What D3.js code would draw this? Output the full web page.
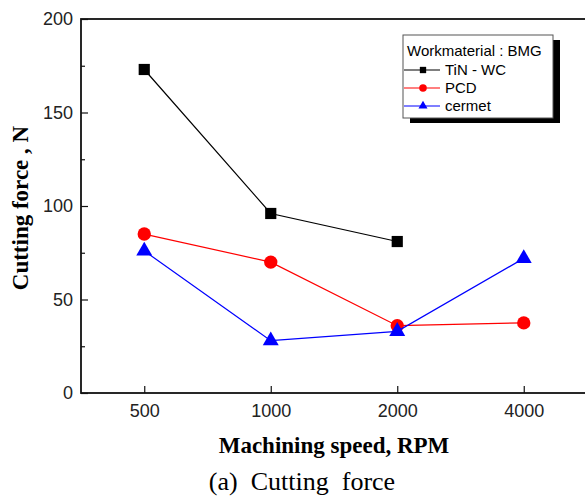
<!DOCTYPE html>
<html lang="en">
<head>
<meta charset="UTF-8">
<title>Cutting force</title>
<style>
  body { margin: 0; background: white; }
  svg { display: block; }
  .tick text { font-family: "Liberation Sans", Arial, sans-serif; font-size: 18px; fill: #222; }
</style>
</head>
<body>
<svg width="585" height="500"></svg>
<script src="https://d3js.org/d3.v7.min.js"></script>
<script>
// data
const speeds = ["500", "1000", "2000", "4000"];
const tinWc = [173, 96, 81, null];
const pcd = [85, 70, 36, 37.5];
const cermet = [76, 28, 33, 72];
const yTicks = [0, 50, 100, 150, 200];

const series = [
  { name: "TiN - WC", values: tinWc, color: "#000000", shape: d3.symbolSquare, size: 125 },
  { name: "PCD", values: pcd, color: "#ff0000", shape: d3.symbolCircle, size: 140 },
  { name: "cermet", values: cermet, color: "#0000ff", shape: d3.symbolTriangle, size: 110 }
];

const margin = { left: 81, top: 19, right: -2, bottom: 107 };
const width = 585, height = 500;
const svg = d3.select("svg");

const x = d3.scaleLinear().domain([-0.5, 3.5]).range([margin.left, width - margin.right]);
const y = d3.scaleLinear().domain([0, 200]).range([height - margin.bottom, margin.top]);

// frame
svg.append("rect")
  .attr("x", x(-0.5)).attr("y", y(200))
  .attr("width", x(3.5) - x(-0.5)).attr("height", y(0) - y(200))
  .attr("fill", "none").attr("stroke", "#111").attr("stroke-width", 1.8);

// y axis, ticks inside
const yAxis = svg.append("g")
  .attr("transform", `translate(${x(-0.5)},0)`)
  .call(d3.axisLeft(y).tickValues(yTicks).tickSize(-7).tickPadding(8));
yAxis.select(".domain").remove();
svg.append("g")
  .attr("transform", `translate(${x(-0.5)},0)`)
  .call(d3.axisLeft(y).tickValues([25, 75, 125, 175]).tickSize(-4).tickFormat(""))
  .select(".domain").remove();

// x axis
const xAxis = svg.append("g")
  .attr("transform", `translate(0,${y(0)})`)
  .call(d3.axisBottom(x).tickValues(d3.range(speeds.length)).tickFormat(i => speeds[i]).tickSize(-7).tickPadding(11));
xAxis.select(".domain").remove();
svg.selectAll(".tick line").attr("stroke", "#111").attr("stroke-width", 1.2);

// lines and markers
const line = d3.line()
  .defined(d => d != null)
  .x((d, i) => x(i))
  .y(d => y(d));

series.forEach(s => {
  svg.append("path")
    .datum(s.values)
    .attr("fill", "none")
    .attr("stroke", s.color)
    .attr("stroke-width", 1.2)
    .attr("d", line);
  svg.append("g").selectAll("path")
    .data(s.values.map((v, i) => ({ v, i })).filter(d => d.v != null))
    .join("path")
    .attr("transform", d => `translate(${x(d.i)},${y(d.v)})`)
    .attr("d", d3.symbol().type(s.shape).size(s.size))
    .attr("fill", s.color);
});

// legend
const lg = svg.append("g").attr("transform", "translate(403,35)");
lg.append("rect").attr("x", 7).attr("y", 5).attr("width", 150).attr("height", 83).attr("fill", "#000");
lg.append("rect").attr("width", 150).attr("height", 83).attr("fill", "#fff").attr("stroke", "#555").attr("stroke-width", 1);
lg.append("text")
  .attr("x", 4).attr("y", 21)
  .style("font-family", "Liberation Sans, Arial, sans-serif").style("font-size", "15px")
  .text("Workmaterial : BMG");
series.forEach((s, k) => {
  const yy = 35 + k * 18;
  lg.append("line").attr("x1", 1).attr("x2", 37).attr("y1", yy).attr("y2", yy)
    .attr("stroke", s.color).attr("stroke-width", 1.2);
  lg.append("path").attr("transform", `translate(20,${yy})`)
    .attr("d", d3.symbol().type(s.shape).size(s.size * 0.32)).attr("fill", s.color);
  lg.append("text").attr("x", 42).attr("y", yy + 5)
    .style("font-family", "Liberation Sans, Arial, sans-serif").style("font-size", "15px")
    .text(s.name);
});

// axis titles
svg.append("text")
  .attr("transform", `translate(28,${(y(0) + y(200)) / 2 + 2}) rotate(-90)`)
  .attr("text-anchor", "middle")
  .style("font-family", "Liberation Serif, Times New Roman, serif")
  .style("font-weight", "bold").style("font-size", "23px")
  .text("Cutting force , N");

svg.append("text")
  .attr("x", 334).attr("y", 453)
  .attr("text-anchor", "middle")
  .style("font-family", "Liberation Serif, Times New Roman, serif")
  .style("font-weight", "bold").style("font-size", "23px")
  .text("Machining speed, RPM");

svg.append("text")
  .attr("x", 302).attr("y", 490)
  .attr("text-anchor", "middle")
  .attr("xml:space", "preserve")
  .style("white-space", "pre")
  .style("font-family", "Liberation Serif, Times New Roman, serif")
  .style("font-size", "26px")
  .text("(a)  Cutting  force");
</script>
</body>
</html>
